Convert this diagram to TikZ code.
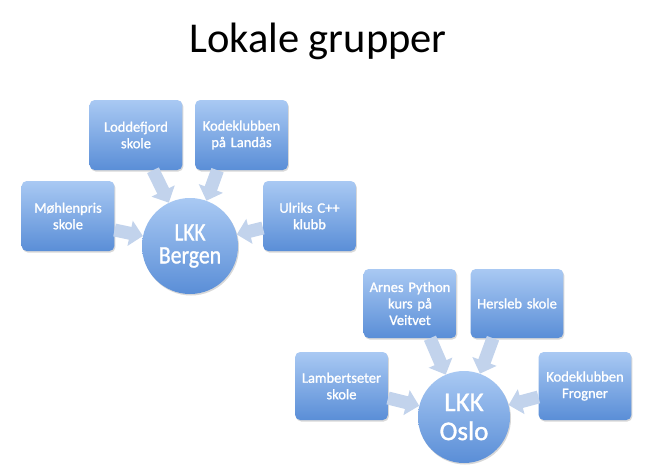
\documentclass[tikz,border=0pt]{standalone}
\usepackage{fontspec}
\setmainfont{Carlito}
\newfontfamily\heavyfont{Carlito}[FakeBold=1.2]
\usetikzlibrary{arrows.meta,shadows,shapes.geometric}
\definecolor{boxtop}{HTML}{A9C9F3}
\definecolor{boxbot}{HTML}{5A8ED7}
\definecolor{arrowc}{HTML}{C2D3EC}
\tikzset{
  grpbox/.style={draw=none, rounded corners=5pt, minimum width=88pt, minimum height=70pt,
    top color=boxtop, bottom color=boxbot, text=white, font=\heavyfont\fontsize{14.5}{16.5}\selectfont,
    align=center, text width=86pt,
    drop shadow={shadow xshift=1pt, shadow yshift=-1.5pt, opacity=0.25, fill=black!60}},
  hub/.style={circle, draw=none, minimum size=96pt, top color=boxtop, bottom color=boxbot,
    text=white, align=center, inner sep=0pt,
    drop shadow={shadow xshift=1pt, shadow yshift=-1.5pt, opacity=0.25, fill=black!60}},
  blockarrow/.style={line width=13pt, draw=arrowc, -{Triangle[length=13pt,width=25pt]}}
}
\begin{document}
\begin{tikzpicture}[x=1pt,y=-1pt]
\useasboundingbox[fill=white] (0,0) rectangle (646,475);
\node[font=\fontsize{42.5}{44}\selectfont] (title) at (318,41) {Lokale grupper};

% Bergen
\node[hub, minimum size=96pt, font=\heavyfont\fontsize{25}{23}\selectfont] (bergen) at (190,246)
  {\scalebox{0.85}[1]{LKK}\\\scalebox{0.87}[1]{Bergen}};
\node[grpbox] (lodd) at (136,135) {Loddefjord\\skole};
\node[grpbox] (land) at (241.5,135) {Kodeklubben\\på Landås};
\node[grpbox] (moh) at (68,216) {Møhlenpris\\skole};
\node[grpbox] (ulr) at (309.5,216) {Ulriks C++\\klubb};

% Oslo
\node[hub, minimum size=92pt, font=\heavyfont\fontsize{27}{29}\selectfont] (oslo) at (464,417) {LKK\\Oslo};
\node[grpbox, minimum width=86pt, minimum height=69pt] (arnes) at (410,303.5) {Arnes Python\\kurs på\\Veitvet};
\node[grpbox, minimum width=86pt, minimum height=69pt] (hers) at (517,303.5) {Hersleb skole};
\node[grpbox, minimum width=87pt, minimum height=68pt] (lamb) at (341.5,386) {Lambertseter\\skole};
\node[grpbox, minimum width=86pt, minimum height=68pt] (frog) at (585,386) {Kodeklubben\\Frogner};

% arrows
\draw[blockarrow] ([xshift=17pt]lodd.south) -- (bergen);
\draw[blockarrow] ([xshift=-24pt]land.south) -- (bergen);
\draw[blockarrow] ([yshift=-14pt]moh.east) -- (bergen);
\draw[blockarrow] ([yshift=-12pt]ulr.west) -- (bergen);
\draw[blockarrow] ([xshift=20pt]arnes.south) -- (oslo);
\draw[blockarrow] ([xshift=-24pt]hers.south) -- (oslo);
\draw[blockarrow] ([yshift=-12pt]lamb.east) -- (oslo);
\draw[blockarrow] ([yshift=-11pt]frog.west) -- (oslo);
\end{tikzpicture}
\end{document}
